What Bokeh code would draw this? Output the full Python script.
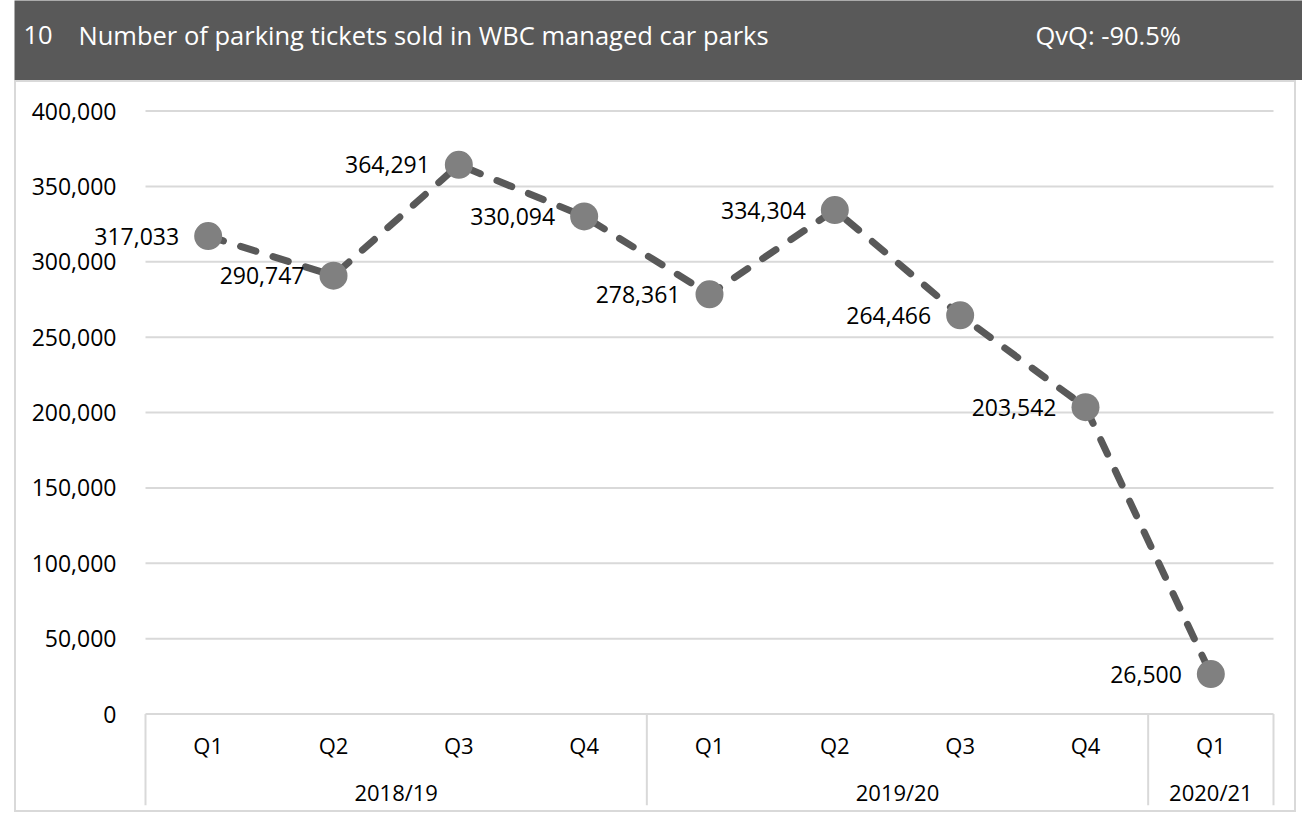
from bokeh.plotting import figure
from bokeh.models import Range1d, FixedTicker, NumeralTickFormatter, ColumnDataSource
from bokeh.layouts import column
from bokeh.embed import file_html
from bokeh.resources import INLINE
from bokeh.core.properties import value

# ---------------- data ----------------
quarters = ["Q1", "Q2", "Q3", "Q4", "Q1", "Q2", "Q3", "Q4", "Q1"]
years = ["2018/19", "2019/20", "2020/21"]
year_counts = [4, 4, 1]
tickets = [317033, 290747, 364291, 330094, 278361, 334304, 264466, 203542, 26500]
y_ticks = [0, 50000, 100000, 150000, 200000, 250000, 300000, 350000, 400000]
chart_number = "10"
chart_title = "Number of parking tickets sold in WBC managed car parks"
change_text = "QvQ: -90.5%"

FONT = "Open Sans"
GRID = "#d9d9d9"

# ---------------- header band ----------------
HW, HH = 1288, 80
header = figure(width=HW, height=HH, x_range=Range1d(0, HW), y_range=Range1d(0, HH),
                output_backend="svg", toolbar_location=None, min_border=0,
                margin=(0, 0, 0, 14))
header.frame_align = False
header.axis.visible = False
header.grid.visible = False
header.outline_line_color = None
header.background_fill_color = "#595959"
header.border_fill_color = "#595959"
hsrc = ColumnDataSource(dict(x=[9, 64, 1021], y=[46, 46, 46],
                             t=[chart_number, chart_title, change_text]))
header.text(x="x", y="y", text="t", source=hsrc, text_color="white",
            text_font=value(FONT), text_font_size="25.5px", text_baseline="alphabetic",
            text_align="left")

# ---------------- chart ----------------
n = len(tickets)
xs = [i + 0.5 for i in range(n)]
labels = [f"{v:,}" for v in tickets]

CW, CH = 1282, 732
PLOT_LEFT, PLOT_W = 129, 1128          # pixel layout of the category area
UNIT = PLOT_W / n
X_MIN = -PLOT_LEFT / UNIT
X_MAX = n + (CW - PLOT_LEFT - PLOT_W) / UNIT

U_PER_PX = 400000 / 603.0              # vertical data units per pixel
TOP_PAD_PX, BOTTOM_PX, BORDER_BOTTOM = 28.5, 91.5, 9
Y_MAX = 400000 + TOP_PAD_PX * U_PER_PX
Y_MIN = -BOTTOM_PX * U_PER_PX

p = figure(width=CW, height=CH, x_range=Range1d(X_MIN, X_MAX), y_range=Range1d(Y_MIN, Y_MAX),
           output_backend="svg", toolbar_location=None,
           min_border_left=0, min_border_right=0, min_border_top=0,
           min_border_bottom=BORDER_BOTTOM,
           margin=(0, 0, 0, 14), styles={"border": f"2px solid {GRID}"})
p.frame_align = False
p.outline_line_color = None
p.background_fill_color = "white"
p.border_fill_color = "white"
p.xaxis.visible = False
p.xgrid.visible = False
p.ygrid.visible = False

p.yaxis.fixed_location = 0
p.yaxis.ticker = FixedTicker(ticks=y_ticks)
p.yaxis.formatter = NumeralTickFormatter(format="0,0")
p.yaxis.axis_line_color = None
p.yaxis.major_tick_line_color = None
p.yaxis.minor_tick_line_color = None
p.yaxis.major_tick_out = 0
p.yaxis.major_tick_in = 0
p.yaxis.major_label_standoff = 29
p.yaxis.major_label_text_font = FONT
p.yaxis.major_label_text_font_size = "23px"
p.yaxis.major_label_text_color = "#000000"

# horizontal grid lines across the category area
k = len(y_ticks)
p.segment(x0=[0] * k, y0=y_ticks, x1=[n] * k, y1=y_ticks, line_color=GRID, line_width=2)

# category table separators
bounds = [0]
for c in year_counts:
    bounds.append(bounds[-1] + c)
p.segment(x0=bounds, y0=[0] * len(bounds), x1=bounds, y1=[Y_MIN] * len(bounds),
          line_color=GRID, line_width=2)

# category labels
q_row = -31 * U_PER_PX
g_row = -78 * U_PER_PX
p.text(x=xs, y=[q_row] * n, text=quarters, text_font=value(FONT), text_font_size="22px",
       text_align="center", text_baseline="middle", text_color="#000000")
g_centers = [(bounds[i] + bounds[i + 1]) / 2 for i in range(len(years))]
p.text(x=g_centers, y=[g_row] * len(years), text=years, text_font=value(FONT),
       text_font_size="22px", text_align="center", text_baseline="middle", text_color="#000000")

# series
src = ColumnDataSource(dict(x=xs, y=tickets, lab=labels))
p.line("x", "y", source=src, line_color="#595959", line_width=7, line_dash="16 18",
       line_cap="round", line_join="round")
p.scatter("x", "y", source=src, size=28, fill_color="#808080", line_color=None)
p.text("x", "y", text="lab", source=src, x_offset=-29, text_align="right",
       text_baseline="middle", text_font=value(FONT), text_font_size="23px",
       text_color="#000000")

layout = column(header, p, spacing=0)
open("out.html", "w").write(file_html(layout, INLINE))
